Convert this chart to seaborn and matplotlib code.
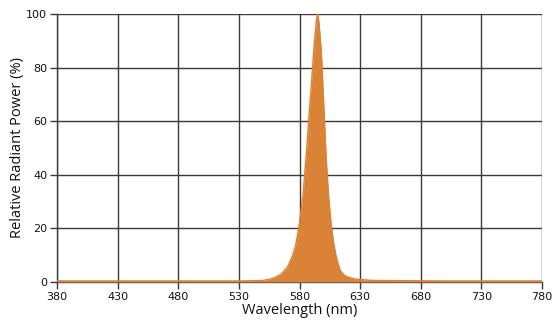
import matplotlib
matplotlib.use("Agg")
import matplotlib.pyplot as plt
import seaborn as sns
import pandas as pd

wavelength = [380, 400, 450, 500, 530, 545, 550, 555, 560, 565, 570, 574, 577, 580,
              583, 586, 588, 590, 592, 594, 595, 596, 598, 600, 602, 604, 606, 608,
              610, 612, 614, 617, 620, 625, 630, 640, 660, 700, 780]
power = [0.4, 0.4, 0.4, 0.4, 0.4, 0.5, 0.6, 1.0, 1.7, 3.0, 5.5, 9.5, 14, 22,
         33, 50, 63, 75, 88, 98, 100, 97, 86, 66, 46, 32, 22, 15,
         10, 6.5, 4.0, 2.5, 1.8, 1.2, 0.9, 0.6, 0.5, 0.4, 0.4]
x_ticks = [380, 430, 480, 530, 580, 630, 680, 730, 780]
y_ticks = [0, 20, 40, 60, 80, 100]

df = pd.DataFrame({"Wavelength": wavelength, "Power": power})

sns.set_theme(style="white")
plt.rcParams["font.family"] = ["DejaVu Sans"]

fig = plt.figure(figsize=(5.53, 3.21), dpi=100)
ax = fig.add_axes([57 / 553, 1 - 282 / 321, 485 / 553, 268 / 321])

color = "#DA8235"
ax.fill_between(df["Wavelength"], 0, df["Power"], color=color, linewidth=0, zorder=3)
sns.lineplot(data=df, x="Wavelength", y="Power", color=color, linewidth=1.0, ax=ax, zorder=3)

ax.set_xlim(380, 780)
ax.set_ylim(0, 100)
ax.set_xticks(x_ticks)
ax.set_yticks(y_ticks)
ax.grid(True, color="#3a3a3a", linewidth=1.0, zorder=1)
for s in ["top", "right"]:
    ax.spines[s].set_visible(False)
for s in ["left", "bottom"]:
    ax.spines[s].set_color("#3a3a3a")
    ax.spines[s].set_linewidth(1.0)
ax.tick_params(axis="both", which="major", direction="out", length=5, width=1.0,
               color="#3a3a3a", labelsize=8, labelcolor="#111111", pad=2,
               bottom=True, left=True)
ax.set_xlabel("Wavelength (nm)", fontsize=10.5, family="Open Sans", labelpad=1, color="#111111")
ax.set_ylabel("Relative Radiant Power (%)", fontsize=10.5, family="Open Sans", labelpad=1, color="#111111")

fig.savefig("out.png", dpi=100)
